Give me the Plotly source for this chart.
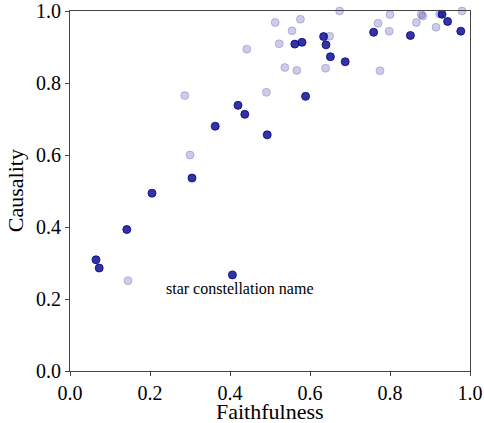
import plotly.graph_objects as go

# Light (faded) series
light_x = [0.145, 0.287, 0.300, 0.442, 0.491, 0.513, 0.523, 0.537, 0.555, 0.567, 0.576, 0.639,
           0.649, 0.674, 0.770, 0.775, 0.798, 0.800, 0.866, 0.878, 0.882, 0.915, 0.924, 0.980]
light_y = [0.251, 0.765, 0.600, 0.894, 0.774, 0.968, 0.909, 0.843, 0.945, 0.835, 0.977, 0.841,
           0.930, 1.000, 0.966, 0.834, 0.944, 0.990, 0.968, 0.990, 0.986, 0.955, 0.992, 1.000]

# Dark series
dark_x = [0.065, 0.073, 0.142, 0.205, 0.305, 0.363, 0.406, 0.420, 0.437, 0.493, 0.562,
          0.580, 0.589, 0.634, 0.640, 0.651, 0.688, 0.759, 0.851, 0.930, 0.944, 0.977]
dark_y = [0.309, 0.286, 0.393, 0.494, 0.536, 0.680, 0.267, 0.738, 0.713, 0.656, 0.908,
          0.913, 0.763, 0.929, 0.906, 0.873, 0.859, 0.941, 0.932, 0.991, 0.971, 0.944]

tick_vals = [0.0, 0.2, 0.4, 0.6, 0.8, 1.0]
tick_text = ["0.0", "0.2", "0.4", "0.6", "0.8", "1.0"]

annot_text = "star constellation name"
annot_x, annot_y = 0.235, 0.228

x_title = "Faithfulness"
y_title = "Causality"

FONT = "Liberation Serif, Times New Roman, serif"

fig = go.Figure()
fig.add_trace(go.Scatter(
    x=light_x, y=light_y, mode="markers", cliponaxis=False, showlegend=False,
    hoverinfo="skip",
    marker=dict(size=8, color="rgba(0,0,139,0.2)",
                line=dict(width=1, color="rgba(0,0,139,0.2)")),
))
fig.add_trace(go.Scatter(
    x=dark_x, y=dark_y, mode="markers", cliponaxis=False, showlegend=False,
    hoverinfo="skip",
    marker=dict(size=8, color="rgba(0,0,139,0.8)",
                line=dict(width=1, color="rgba(0,0,139,0.8)")),
))

fig.add_annotation(x=annot_x, y=annot_y, text=annot_text, showarrow=False,
                   xanchor="left", yanchor="middle",
                   font=dict(family=FONT, size=16, color="black"))

# axis titles as paper annotations
fig.add_annotation(xref="paper", yref="paper", x=0.5, y=-0.112, text=x_title,
                   showarrow=False, xanchor="center", yanchor="middle",
                   font=dict(family=FONT, size=22, color="black"))
fig.add_annotation(xref="paper", yref="paper", x=-0.137, y=0.5, text=y_title,
                   showarrow=False, xanchor="center", yanchor="middle", textangle=-90,
                   font=dict(family=FONT, size=22, color="black"))

axis_common = dict(
    range=[0, 1], tickvals=tick_vals, ticktext=tick_text, automargin=False,
    showgrid=False, zeroline=False, showline=True, mirror=True,
    linecolor="#444", linewidth=1, ticks="outside", ticklen=4,
    tickcolor="#444", tickwidth=1,
    tickfont=dict(family=FONT, size=20, color="black"),
)

fig.update_layout(
    width=484, height=423,
    margin=dict(l=70, r=14, t=11, b=52),
    paper_bgcolor="white", plot_bgcolor="white",
    xaxis=dict(**axis_common),
    yaxis=dict(**axis_common),
)

fig.write_html("out.html", config={"displayModeBar": False},
               post_script="document.body.style.margin='0';document.body.style.padding='0';")
